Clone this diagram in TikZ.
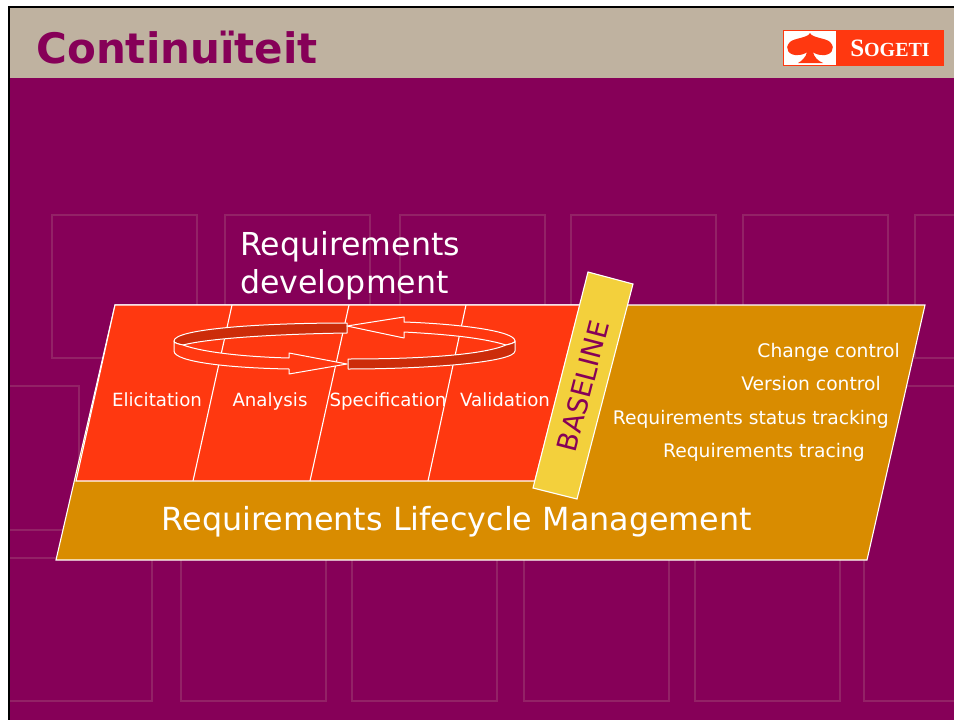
\documentclass[tikz,border=0pt]{standalone}
\usepackage{fontspec}
\setmainfont{DejaVu Sans}
\usepackage{tikz}
\usetikzlibrary{positioning}
\definecolor{mpurple}{RGB}{134, 0, 88}
\definecolor{mfaint}{RGB}{147, 34, 102}
\definecolor{mtaupe}{RGB}{191, 178, 160}
\definecolor{mred}{RGB}{255, 56, 16}
\definecolor{mdark}{RGB}{204, 44, 10}
\definecolor{mochre}{RGB}{217, 140, 0}
\definecolor{myellow}{RGB}{243, 208, 60}
\tikzset{
  ghost/.style={draw=mfaint, line width=1.3pt},
  plane/.style={draw=white, line width=1.1pt},
  divider/.style={draw=white, line width=1.1pt},
  band/.style={draw=white, line width=1pt, line join=round},
  steplabel/.style={text=white, font=\fontsize{18.2}{22}\selectfont, inner sep=0pt, anchor=base},
  tasklabel/.style={text=white, font=\fontsize{18.7}{22}\selectfont, inner sep=0pt, anchor=base east}
}
\begin{document}
\begin{tikzpicture}[x=1pt, y=-1pt]
    \useasboundingbox (0, 0) rectangle (954, 720);
    \fill [white] (0, 0) rectangle (954, 720);
    \fill [mpurple] (9, 78) rectangle (954, 720);
    \fill [mtaupe] (9, 8) rectangle (954, 78);
    \draw [black, line width=2pt] (9, 720) -- (9, 7) -- (954, 7);

    % faint squares behind the planes
    \foreach \x in {52, 225, 400, 571, 743, 915}
      \draw [ghost] (\x, 215) rectangle ++(145, 143);
    \draw [ghost] (10, 386) -- (79, 386) -- (79, 485);
    \draw [ghost] (954, 386) -- (900, 386);
    \draw [ghost] (10, 530) -- (80, 530);
    \foreach \x in {181, 352, 524, 695}
      \draw [ghost] (\x, 558) rectangle ++(145, 143);
    \draw [ghost] (10, 558) -- (152, 558) -- (152, 701) -- (10, 701);
    \draw [ghost] (864, 556) -- (864, 701) -- (954, 701);

    % header
    \node [text=mpurple, font=\fontsize{42}{50}\selectfont\bfseries, inner sep=0pt] (title) at (177, 48) {Continuïteit};

    % logo
    \fill [mred] (783, 30) rectangle (944, 66);
    \fill [white] (784, 31) rectangle (836, 65);
    \fill [mred] (810, 33) .. controls (812, 38) and (826, 38) .. (830, 42)
      .. controls (837, 49) and (830, 56) .. (822, 55) .. controls (819, 55) and (815, 54) .. (813, 52)
      .. controls (814, 57) and (818, 61) .. (823, 63) -- (798, 63)
      .. controls (802, 61) and (806, 57) .. (807, 52) .. controls (805, 54) and (801, 55) .. (798, 55)
      .. controls (790, 56) and (783, 49) .. (790, 42) .. controls (794, 38) and (808, 38) .. (810, 33) -- cycle;
    \node [text=white, font=\fontspec{Liberation Serif}\bfseries\fontsize{25}{29}\selectfont, inner sep=0pt] (logotext) at (890, 48) {S\fontsize{20}{24}\selectfont OGETI};

    % lifecycle plane
    \path [fill=mochre, plane] (115, 305) -- (925, 305) -- (867, 560) -- (56, 560) -- cycle;

    % development plane
    \path [fill=mred, plane] (115, 305) -- (580, 305) -- (535, 481) -- (76, 481) -- cycle;
    \coordinate (divtopa) at (232, 305);
    \coordinate (divbota) at (193, 481);
    \coordinate (divtopb) at (349, 305);
    \coordinate (divbotb) at (310, 481);
    \coordinate (divtopc) at (466, 305);
    \coordinate (divbotc) at (428, 481);
    \draw [divider] (divtopa) -- (divbota);
    \draw [divider] (divtopb) -- (divbotb);
    \draw [divider] (divtopc) -- (divbotc);

    % circular arrow: back halves first
    \path [fill=mdark, band] (347, 323) .. controls (260, 323) and (174, 329) .. (174, 341)
      .. controls (174, 343) and (178, 344) .. (183, 345) .. controls (210, 338) and (280, 334) .. (347, 333) -- cycle;
    \path [fill=mred, band] (347, 326) -- (404, 317) -- (404, 322) .. controls (460, 324) and (515, 331) .. (515, 341)
      .. controls (515, 343) and (510, 344) .. (506, 345) .. controls (480, 337) and (440, 334) .. (404, 332) -- (404, 338) -- cycle;
    \path [fill=mdark, band] (348, 359) .. controls (430, 359) and (485, 354) .. (506, 345)
      .. controls (510, 344) and (515, 343) .. (515, 341) -- (515, 351) .. controls (515, 362) and (430, 369) .. (348, 369) -- cycle;
    \path [fill=mred, band] (174, 341) .. controls (174, 343) and (178, 344) .. (183, 345)
      .. controls (205, 353) and (250, 357) .. (289, 358) -- (289, 353) -- (347, 364) -- (289, 374) -- (289, 369)
      .. controls (230, 368) and (174, 362) .. (174, 351) -- cycle;

    % baseline strip
    \path [fill=myellow, draw=white, line width=1.1pt] (588, 272) -- (633, 284) -- (577, 499) -- (533, 488) -- cycle;
    \node [text=mpurple, rotate=75.5, font=\fontsize{27.4}{32}\selectfont, inner sep=0pt] (baseline) at (583, 386) {BASELINE};

    % labels
    \node [text=white, font=\fontsize{31.6}{38}\selectfont, align=left, inner sep=0pt, anchor=base west, text width=260pt] (devlabel) at (240, 255) {Requirements\\development};
    \node [steplabel] (elicitation) at (157, 406) {Elicitation};
    \node [steplabel] (analysis) at (270, 406) {Analysis};
    \node [steplabel] (specification) at (388, 406) {Specification};
    \node [steplabel] (validation) at (505, 406) {Validation};
    \node [tasklabel] (change) at (900, 357) {Change control};
    \node [tasklabel] (version) at (881, 390) {Version control};
    \node [tasklabel] (status) at (889, 424) {Requirements status tracking};
    \node [tasklabel] (tracing) at (865, 457) {Requirements tracing};
    \node [text=white, font=\fontsize{31.8}{38}\selectfont, inner sep=0pt, anchor=base] (lifecycle) at (457, 530) {Requirements Lifecycle Management};
\end{tikzpicture}
\end{document}
